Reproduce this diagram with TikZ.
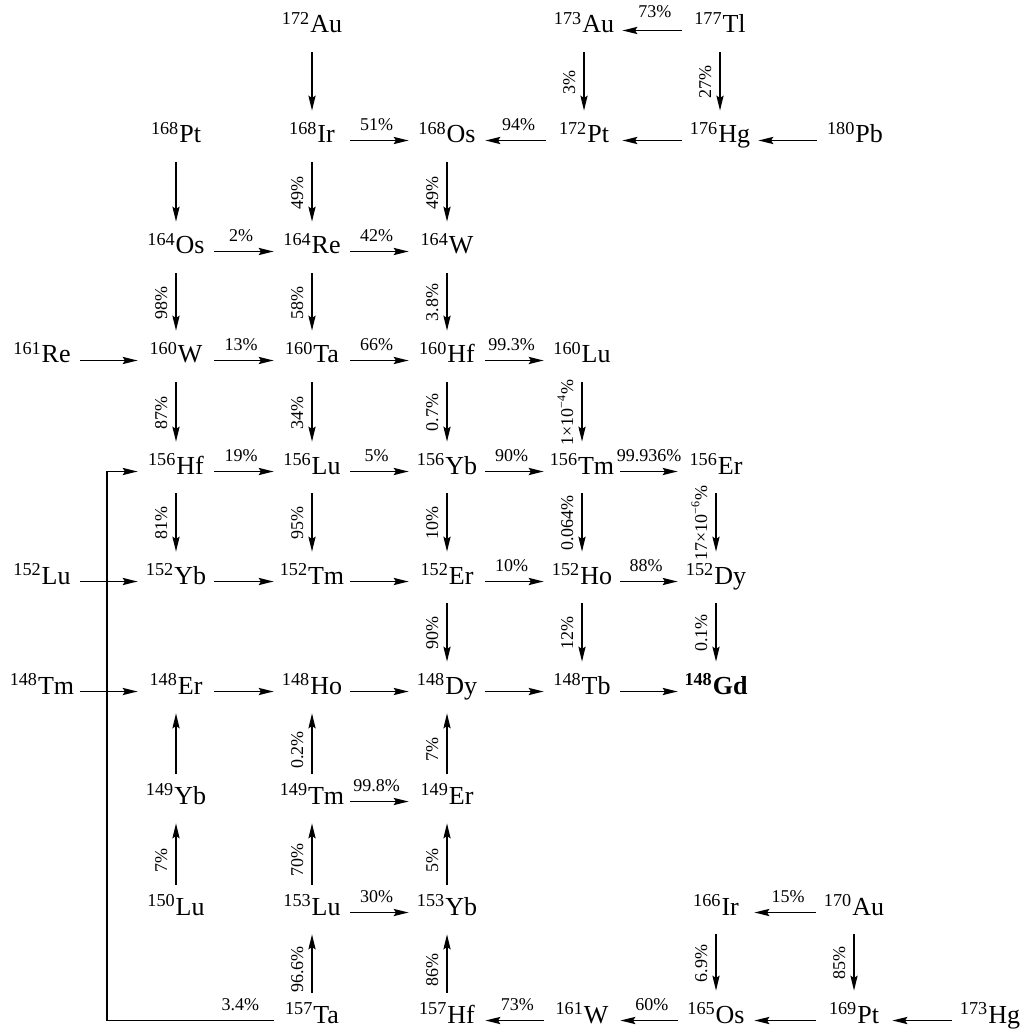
\documentclass[tikz,border=0pt]{standalone}
\usepackage{fontspec}
\setmainfont{Liberation Serif}
\usetikzlibrary{arrows.meta}
\newcommand{\nuc}[2]{\textsuperscript{#1}#2}
\tikzset{
  iso/.style={anchor=base,inner sep=0pt,minimum width=38pt,text height=12pt,text depth=9.5pt,font=\fontsize{13}{15}\selectfont},
  decay/.style={-{Stealth[length=7.5pt,width=3.6pt,inset=1.2pt]},line width=0.7pt},
  down/.style={decay,shorten >=4pt},
  up/.style={decay,shorten <=3pt},
  lbl/.style={font=\fontsize{9}{10}\selectfont,pos=0.45},
  hlbl/.style={lbl,anchor=south,inner sep=4.5pt},
  vlbl/.style={lbl,rotate=90,anchor=south,inner sep=4pt}
}
\begin{document}
\begin{tikzpicture}[x=0.5pt,y=-0.5pt]
  \useasboundingbox (0,0) rectangle (1024,1031);

  \node[iso] (Au172) at (312,33) {\nuc{172}{Au}};
  \node[iso] (Au173) at (584,33) {\nuc{173}{Au}};
  \node[iso] (Tl177) at (720,33) {\nuc{177}{Tl}};

  \node[iso] (Pt168) at (176,143) {\nuc{168}{Pt}};
  \node[iso] (Ir168) at (312,143) {\nuc{168}{Ir}};
  \node[iso] (Os168) at (447,143) {\nuc{168}{Os}};
  \node[iso] (Pt172) at (584,143) {\nuc{172}{Pt}};
  \node[iso] (Hg176) at (720,143) {\nuc{176}{Hg}};
  \node[iso] (Pb180) at (855,143) {\nuc{180}{Pb}};

  \node[iso] (Os164) at (176,254) {\nuc{164}{Os}};
  \node[iso] (Re164) at (312,254) {\nuc{164}{Re}};
  \node[iso] (W164)  at (447,254) {\nuc{164}{W}};

  \node[iso] (Re161) at (42,363)  {\nuc{161}{Re}};
  \node[iso] (W160)  at (176,363) {\nuc{160}{W}};
  \node[iso] (Ta160) at (312,363) {\nuc{160}{Ta}};
  \node[iso] (Hf160) at (447,363) {\nuc{160}{Hf}};
  \node[iso] (Lu160) at (582,363) {\nuc{160}{Lu}};

  \node[iso] (Hf156) at (176,474) {\nuc{156}{Hf}};
  \node[iso] (Lu156) at (312,474) {\nuc{156}{Lu}};
  \node[iso] (Yb156) at (447,474) {\nuc{156}{Yb}};
  \node[iso] (Tm156) at (582,474) {\nuc{156}{Tm}};
  \node[iso] (Er156) at (716,474) {\nuc{156}{Er}};

  \node[iso] (Lu152) at (42,584)  {\nuc{152}{Lu}};
  \node[iso] (Yb152) at (176,584) {\nuc{152}{Yb}};
  \node[iso] (Tm152) at (312,584) {\nuc{152}{Tm}};
  \node[iso] (Er152) at (447,584) {\nuc{152}{Er}};
  \node[iso] (Ho152) at (582,584) {\nuc{152}{Ho}};
  \node[iso] (Dy152) at (716,584) {\nuc{152}{Dy}};

  \node[iso] (Tm148) at (42,694)  {\nuc{148}{Tm}};
  \node[iso] (Er148) at (176,694) {\nuc{148}{Er}};
  \node[iso] (Ho148) at (312,694) {\nuc{148}{Ho}};
  \node[iso] (Dy148) at (447,694) {\nuc{148}{Dy}};
  \node[iso] (Tb148) at (582,694) {\nuc{148}{Tb}};
  \node[iso] (Gd148) at (716,694) {\textbf{\nuc{148}{Gd}}};

  \node[iso] (Yb149) at (176,804) {\nuc{149}{Yb}};
  \node[iso] (Tm149) at (312,804) {\nuc{149}{Tm}};
  \node[iso] (Er149) at (447,804) {\nuc{149}{Er}};

  \node[iso] (Lu150) at (176,915) {\nuc{150}{Lu}};
  \node[iso] (Lu153) at (312,915) {\nuc{153}{Lu}};
  \node[iso] (Yb153) at (447,915) {\nuc{153}{Yb}};
  \node[iso] (Ir166) at (716,915) {\nuc{166}{Ir}};
  \node[iso] (Au170) at (854,915) {\nuc{170}{Au}};

  \node[iso] (Ta157) at (312,1023) {\nuc{157}{Ta}};
  \node[iso] (Hf157) at (447,1023) {\nuc{157}{Hf}};
  \node[iso] (W161)  at (582,1023) {\nuc{161}{W}};
  \node[iso] (Os165) at (716,1023) {\nuc{165}{Os}};
  \node[iso] (Pt169) at (854,1023) {\nuc{169}{Pt}};
  \node[iso] (Hg173) at (990,1023) {\nuc{173}{Hg}};
  \coordinate (bend) at (107,700);

  \draw[down] (Au172) -- (Ir168);
  \draw[down] (Au173) -- node[vlbl] {3\%} (Pt172);
  \draw[down] (Tl177) -- node[vlbl] {27\%} (Hg176);
  \draw[down] (Pt168) -- (Os164);
  \draw[down] (Ir168) -- node[vlbl] {49\%} (Re164);
  \draw[down] (Os168) -- node[vlbl] {49\%} (W164);
  \draw[down] (Os164) -- node[vlbl] {98\%} (W160);
  \draw[down] (Re164) -- node[vlbl] {58\%} (Ta160);
  \draw[down] (W164)  -- node[vlbl] {3.8\%} (Hf160);
  \draw[down] (W160)  -- node[vlbl] {87\%} (Hf156);
  \draw[down] (Ta160) -- node[vlbl] {34\%} (Lu156);
  \draw[down] (Hf160) -- node[vlbl] {0.7\%} (Yb156);
  \draw[down] (Lu160) -- node[vlbl] {1×10\textsuperscript{−4}\%} (Tm156);
  \draw[down] (Hf156) -- node[vlbl] {81\%} (Yb152);
  \draw[down] (Lu156) -- node[vlbl] {95\%} (Tm152);
  \draw[down] (Yb156) -- node[vlbl] {10\%} (Er152);
  \draw[down] (Tm156) -- node[vlbl] {0.064\%} (Ho152);
  \draw[down] (Er156) -- node[vlbl] {17×10\textsuperscript{−6}\%} (Dy152);
  \draw[down] (Er152) -- node[vlbl] {90\%} (Dy148);
  \draw[down] (Ho152) -- node[vlbl] {12\%} (Tb148);
  \draw[down] (Dy152) -- node[vlbl] {0.1\%} (Gd148);
  \draw[down] (Ir166) -- node[vlbl] {6.9\%} (Os165);
  \draw[down] (Au170) -- node[vlbl] {85\%} (Pt169);

  \draw[up] (Yb149) -- (Er148);
  \draw[up] (Tm149) -- node[vlbl] {0.2\%} (Ho148);
  \draw[up] (Er149) -- node[vlbl] {7\%} (Dy148);
  \draw[up] (Lu150) -- node[vlbl] {7\%} (Yb149);
  \draw[up] (Lu153) -- node[vlbl] {70\%} (Tm149);
  \draw[up] (Yb153) -- node[vlbl] {5\%} (Er149);
  \draw[up] (Ta157) -- node[vlbl] {96.6\%} (Lu153);
  \draw[up] (Hf157) -- node[vlbl] {86\%} (Yb153);

  \draw[decay] (Tl177) -- node[hlbl,inner sep=6pt] {73\%} (Au173);
  \draw[decay] (Ir168) -- node[hlbl] {51\%} (Os168);
  \draw[decay] (Pt172) -- node[hlbl] {94\%} (Os168);
  \draw[decay] (Hg176) -- (Pt172);
  \draw[decay] (Pb180) -- (Hg176);
  \draw[decay] (Os164) -- node[hlbl] {2\%} (Re164);
  \draw[decay] (Re164) -- node[hlbl] {42\%} (W164);
  \draw[decay] (Re161) -- (W160);
  \draw[decay] (W160)  -- node[hlbl] {13\%} (Ta160);
  \draw[decay] (Ta160) -- node[hlbl] {66\%} (Hf160);
  \draw[decay] (Hf160) -- node[hlbl] {99.3\%} (Lu160);
  \draw[decay] (Hf156) -- node[hlbl] {19\%} (Lu156);
  \draw[decay] (Lu156) -- node[hlbl] {5\%} (Yb156);
  \draw[decay] (Yb156) -- node[hlbl] {90\%} (Tm156);
  \draw[decay] (Tm156) -- node[hlbl,pos=0.5] {99.936\%} (Er156);
  \draw[decay] (Lu152) -- (Yb152);
  \draw[decay] (Yb152) -- (Tm152);
  \draw[decay] (Tm152) -- (Er152);
  \draw[decay] (Er152) -- node[hlbl] {10\%} (Ho152);
  \draw[decay] (Ho152) -- node[hlbl] {88\%} (Dy152);
  \draw[decay] (Tm148) -- (Er148);
  \draw[decay] (Er148) -- (Ho148);
  \draw[decay] (Ho148) -- (Dy148);
  \draw[decay] (Dy148) -- (Tb148);
  \draw[decay] (Tb148) -- (Gd148);
  \draw[decay] (Tm149) -- node[hlbl] {99.8\%} (Er149);
  \draw[decay] (Lu153) -- node[hlbl] {30\%} (Yb153);
  \draw[decay] (Au170) -- node[hlbl] {15\%} (Ir166);
  \draw[decay] (W161)  -- node[hlbl] {73\%} (Hf157);
  \draw[decay] (Os165) -- node[hlbl] {60\%} (W161);
  \draw[decay] (Pt169) -- (Os165);
  \draw[decay] (Hg173) -- (Pt169);
  \draw[decay] (Ta157) -| node[hlbl,pos=0.1] {3.4\%} (bend) |- (Hf156);
\end{tikzpicture}
\end{document}
